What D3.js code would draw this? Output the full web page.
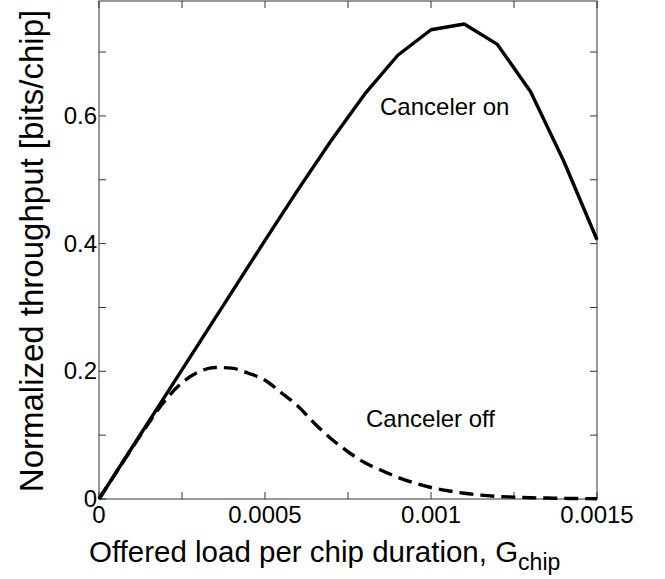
<!DOCTYPE html>
<html><head><meta charset="utf-8">
<script src="https://cdn.jsdelivr.net/npm/d3@7"></script>
<style>
body{margin:0;background:#fff;}
text{font-family:"Liberation Sans",Arial,sans-serif;fill:#000;}
</style></head>
<body><svg id="c" width="665" height="579"></svg>
<script>
const loadOn = [0,0.0001,0.0002,0.0003,0.0004,0.0005,0.0006,0.0007,0.0008,0.0009,0.001,0.0011,0.0012,0.0013,0.0014,0.0015];
const throughputOn = [0,0.081,0.162,0.243,0.324,0.405,0.485,0.562,0.634,0.695,0.735,0.744,0.712,0.638,0.529,0.406];
const loadOff = [0,0.00005,0.0001,0.00015,0.0002,0.00025,0.0003,0.00035,0.0004,0.00045,0.0005,0.00055,0.0006,0.00065,0.0007,0.00075,0.0008,0.00085,0.0009,0.00095,0.001,0.00105,0.0011,0.00115,0.0012,0.00125,0.0013,0.00135,0.0014,0.00145,0.0015];
const throughputOff = [0,0.04,0.08,0.119,0.155,0.182,0.199,0.206,0.205,0.197,0.186,0.166,0.145,0.118,0.094,0.074,0.057,0.045,0.034,0.025,0.018,0.013,0.009,0.006,0.004,0.003,0.002,0.0015,0.001,0.0007,0.0005];
const xTicks = [0,0.00025,0.0005,0.00075,0.001,0.00125,0.0015];
const xTickLabels = ["0","","0.0005","","0.001","","0.0015"];
const yTicks = [0,0.1,0.2,0.3,0.4,0.5,0.6,0.7];
const yTickLabels = ["0","","0.2","","0.4","","0.6",""];
const seriesLabels = ["Canceler on","Canceler off"];

const L=99,R=597,T=1,B=499;
const svg=d3.select("#c");
const x=d3.scaleLinear().domain([0,0.0015]).range([L,R]);
const y=d3.scaleLinear().domain([0,0.78]).range([B,T]);

const ax=svg.append("g").attr("stroke","#333").attr("stroke-width",1).attr("fill","none");
ax.append("rect").attr("x",L).attr("y",T).attr("width",R-L).attr("height",B-T);
const tl=7;
xTicks.forEach(t=>{
  ax.append("line").attr("x1",x(t)).attr("x2",x(t)).attr("y1",B).attr("y2",B-tl);
  ax.append("line").attr("x1",x(t)).attr("x2",x(t)).attr("y1",T).attr("y2",T+tl);
});
yTicks.forEach(t=>{
  ax.append("line").attr("x1",L).attr("x2",L+tl).attr("y1",y(t)).attr("y2",y(t));
  ax.append("line").attr("x1",R).attr("x2",R-tl).attr("y1",y(t)).attr("y2",y(t));
});
xTicks.forEach((t,i)=>{ if(xTickLabels[i]) svg.append("text").attr("x",x(t)).attr("y",B+24).attr("text-anchor","middle").attr("font-size",24).text(xTickLabels[i]);});
yTicks.forEach((t,i)=>{ if(yTickLabels[i]) svg.append("text").attr("x",L-2).attr("y",y(t)+8).attr("text-anchor","end").attr("font-size",24).text(yTickLabels[i]);});

const lineOn=d3.line().x((d,i)=>x(loadOn[i])).y(d=>y(d)).curve(d3.curveLinear);
svg.append("path").attr("d",lineOn(throughputOn)).attr("fill","none").attr("stroke","#000").attr("stroke-width",3.4).attr("stroke-linejoin","round");
const lineOff=d3.line().x((d,i)=>x(loadOff[i])).y(d=>y(d)).curve(d3.curveMonotoneX);
svg.append("path").attr("d",lineOff(throughputOff)).attr("fill","none").attr("stroke","#000").attr("stroke-width",3.4).attr("stroke-dasharray","14,7");

svg.append("text").attr("x",380).attr("y",115).attr("font-size",24).text(seriesLabels[0]);
svg.append("text").attr("x",366).attr("y",427).attr("font-size",24).text(seriesLabels[1]);

const xl=svg.append("text").attr("x",89).attr("y",562).attr("font-size",29.5);
xl.append("tspan").text("Offered load per chip duration, G");
xl.append("tspan").attr("font-size",23).attr("dy",8).text("chip");
svg.append("text").attr("transform","translate(43,251) rotate(-90)").attr("text-anchor","middle").attr("font-size",33).text("Normalized throughput [bits/chip]");
</script></body></html>
